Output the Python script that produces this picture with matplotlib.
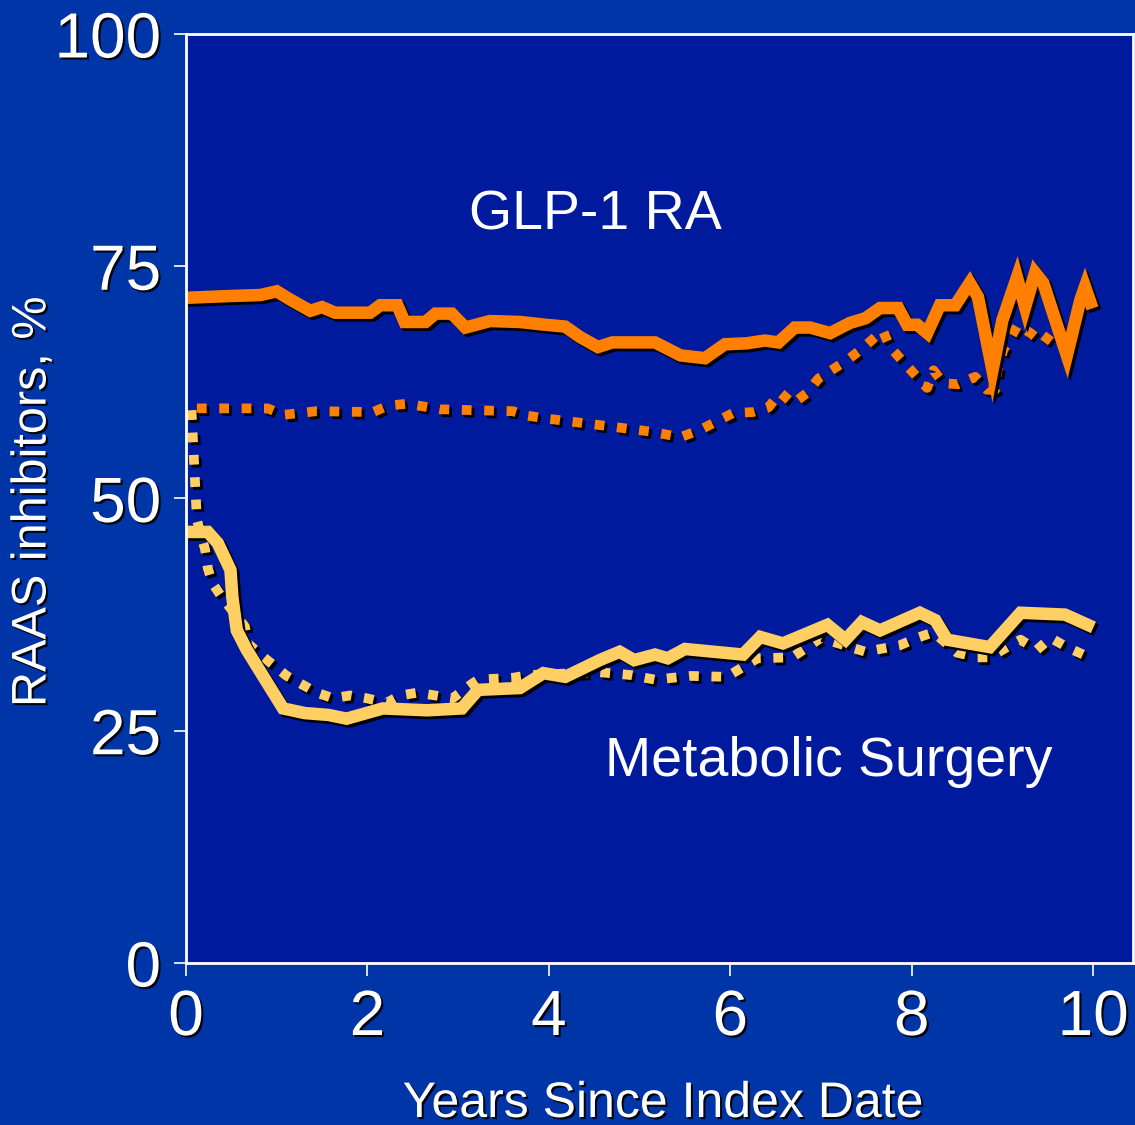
import matplotlib
matplotlib.use('Agg')
import matplotlib.pyplot as plt
import matplotlib.patheffects as pe

# GLP-1 RA, solid
glp_x = [0.0, 0.5, 0.82, 1.0, 1.15, 1.37, 1.5, 1.64, 2.03, 2.14, 2.33, 2.41, 2.64, 2.75, 2.93,
         3.08, 3.35, 3.68, 3.96, 4.18, 4.34, 4.54, 4.70, 5.17, 5.31, 5.45, 5.72, 5.94, 6.18,
         6.38, 6.53, 6.71, 6.88, 7.10, 7.32, 7.49, 7.65, 7.85, 7.95, 8.06, 8.17, 8.31, 8.48,
         8.64, 8.73, 8.89, 9.0, 9.16, 9.25, 9.36, 9.45, 9.71, 9.86, 9.91, 9.97]
glp_y = [71.6, 71.8, 71.9, 72.3, 71.4, 70.2, 70.6, 70.0, 70.0, 70.8, 70.8, 69.0, 69.0, 69.9, 69.9,
         68.4, 69.1, 69.0, 68.7, 68.5, 67.4, 66.3, 66.8, 66.8, 66.1, 65.4, 65.1, 66.6, 66.7,
         67.0, 66.8, 68.4, 68.4, 67.8, 68.9, 69.4, 70.5, 70.5, 68.7, 68.7, 67.8, 70.8, 70.8,
         73.2, 71.7, 63.8, 69.2, 73.8, 70.6, 74.3, 73.2, 65.4, 71.4, 72.8, 71.1]

# GLP-1 RA, dotted
glp_dot_x = [0.12, 0.9, 1.07, 1.44, 2.06, 2.23, 2.44, 2.8, 3.6, 3.77, 3.98, 4.56, 5.12, 5.45,
             5.67, 6.03, 6.25, 6.42, 6.55, 6.69, 6.85, 6.97, 7.29, 7.45, 7.68, 7.76, 8.02,
             8.17, 8.24, 8.35, 8.51, 8.7, 8.83, 8.92, 8.94, 9.01, 9.09, 9.17, 9.31, 9.45, 9.56]
glp_dot_y = [59.7, 59.7, 59.0, 59.4, 59.3, 60.0, 60.2, 59.6, 59.4, 58.9, 58.6, 57.9, 57.2, 56.6,
             57.4, 59.2, 59.3, 59.8, 61.4, 60.2, 61.4, 62.9, 64.9, 66.1, 68.1, 66.3, 63.5,
             61.9, 63.8, 62.4, 62.3, 63.1, 61.7, 61.7, 63.6, 66.0, 67.3, 68.7, 67.8, 66.7, 68.1]

# Metabolic surgery, solid
ms_x = [0.07, 0.24, 0.35, 0.49, 0.51, 0.56, 0.67, 1.07, 1.31, 1.57, 1.77, 2.17, 2.66, 3.04,
        3.22, 3.68, 3.94, 4.18, 4.56, 4.78, 4.94, 5.17, 5.31, 5.5, 6.14, 6.33, 6.58, 7.07,
        7.27, 7.45, 7.65, 8.09, 8.26, 8.39, 8.86, 9.2, 9.69, 9.94]
ms_y = [46.4, 46.4, 45.2, 42.3, 39.4, 35.8, 33.7, 27.4, 26.9, 26.7, 26.3, 27.4, 27.2, 27.4,
        29.4, 29.6, 31.2, 30.8, 32.6, 33.5, 32.6, 33.2, 32.8, 33.8, 33.2, 35.1, 34.4, 36.4,
        34.8, 36.7, 35.8, 37.7, 36.9, 34.8, 34.0, 37.7, 37.5, 36.4]

# Metabolic surgery, dotted
ms_dot_x = [0.06, 0.12, 0.21, 0.24, 0.29, 0.4, 0.65, 0.68, 0.82, 1.11, 1.44, 1.62, 1.81, 1.99,
            2.21, 2.36, 2.55, 2.94, 3.13, 3.22, 3.6, 3.79, 4.56, 4.9, 5.17, 5.56, 5.96, 6.13,
            6.3, 6.68, 6.85, 7.0, 7.32, 7.49, 7.87, 8.06, 8.24, 8.5, 8.72, 8.86, 9.05, 9.2,
            9.38, 9.53, 9.71, 9.89]
ms_dot_y = [59.5, 47.7, 44.5, 42.5, 40.9, 39.3, 36.2, 34.4, 33.2, 30.9, 29.1, 28.5, 28.8, 28.5,
            28.0, 28.8, 29.1, 28.5, 29.9, 30.5, 30.7, 31.0, 31.3, 31.0, 30.5, 30.9, 30.8, 31.8,
            32.8, 32.9, 34.0, 35.0, 34.0, 33.5, 34.2, 35.0, 35.6, 33.4, 32.9, 32.9, 34.0, 34.8,
            33.7, 35.0, 34.0, 33.2]

ORANGE = '#FF8000'
YELLOW = '#FFCF63'
OUTER = '#0035A8'
INNER = '#001A9E'

plt.rcParams['font.family'] = ['Liberation Sans', 'DejaVu Sans']

fig = plt.figure(figsize=(11.35, 11.25), dpi=100, facecolor=OUTER)
ax = fig.add_axes([0.1639, 0.144, 0.8344, 0.8258], facecolor=INNER)

line_fx = [pe.SimpleLineShadow(offset=(2, -2), shadow_color='black', alpha=1), pe.Normal()]
text_fx = [pe.withSimplePatchShadow(offset=(1.5, -1.5), shadow_rgbFace='black', alpha=0.9)]

ax.plot(glp_dot_x, glp_dot_y, color=ORANGE, lw=7, ls=(0, (1.0, 1.3)),
        dash_capstyle='butt', path_effects=line_fx)
ax.plot(ms_dot_x, ms_dot_y, color=YELLOW, lw=7, ls=(0, (1.0, 1.3)),
        dash_capstyle='butt', path_effects=line_fx)
ax.plot(glp_x, glp_y, color=ORANGE, lw=9, solid_joinstyle='miter', path_effects=line_fx)
ax.plot(ms_x, ms_y, color=YELLOW, lw=9, solid_joinstyle='miter', path_effects=line_fx)

ax.set_xlim(0, 10.44)
ax.set_ylim(0, 100)
ax.set_xticks([0, 2, 4, 6, 8, 10])
ax.set_yticks([0, 25, 50, 75, 100])

for s in ax.spines.values():
    s.set_color('white')
    s.set_linewidth(2)

ax.tick_params(colors='white', length=9, width=1.2, labelsize=46, pad=9)
for lbl in ax.get_xticklabels() + ax.get_yticklabels():
    lbl.set_path_effects(text_fx)

# axis titles placed in figure coordinates
fig.text(33 / 1135, 1 - 502 / 1125, 'RAAS inhibitors, %', fontsize=35, color='white',
         rotation=90, ha='center', va='center', path_effects=text_fx)
fig.text(663 / 1135, 8 / 1125, 'Years Since Index Date', fontsize=36, color='white',
         ha='center', va='baseline', path_effects=text_fx)

ax.text(4.51, 80.5, 'GLP-1 RA', fontsize=40, color='white', ha='center', va='center')
ax.text(7.08, 21.6, 'Metabolic Surgery', fontsize=40, color='white', ha='center', va='center')

fig.savefig('out.png', dpi=100, facecolor=OUTER)
